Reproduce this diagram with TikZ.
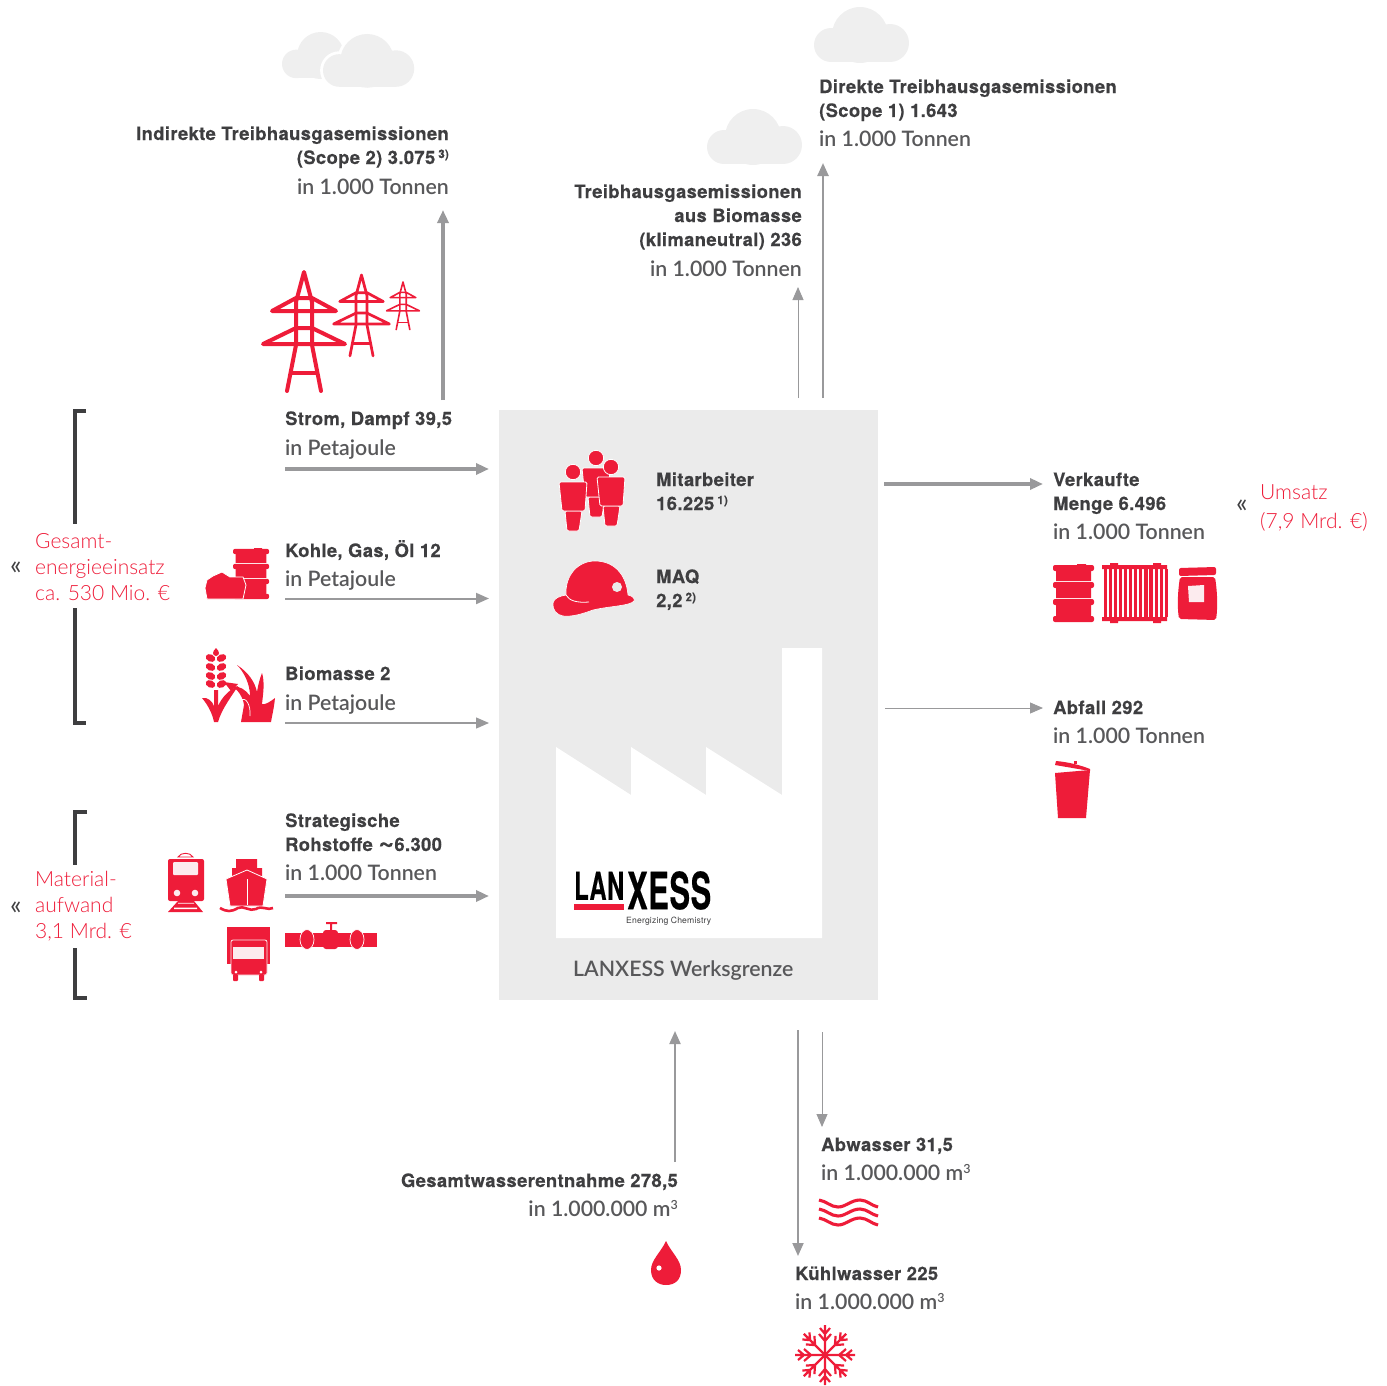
\documentclass[tikz,border=0pt]{standalone}
\usepackage{fontspec}
\usetikzlibrary{arrows.meta}
\setmainfont{TeX Gyre Heros}[LetterSpace=2,BoldFeatures={FakeBold=0.35}]
\newfontfamily\litefont{Lato Light}
\newfontfamily\quotfont{Lato}
\definecolor{lxred}{HTML}{EE1C39}
\definecolor{lxdark}{HTML}{3E3E40}
\definecolor{lxgrey}{HTML}{58585A}
\definecolor{lxline}{HTML}{99999B}
\definecolor{lxpanel}{HTML}{EBEBEB}
\definecolor{lxcloud}{HTML}{EFEFEF}
\definecolor{lxpale}{HTML}{FCEBEE}
\newcommand{\lite}[1]{{\litefont\fontsize{21.3}{24}\selectfont\color{lxgrey}#1}}
\newcommand{\sups}[1]{\,\raisebox{6pt}{\fontsize{11.5}{11.5}\selectfont #1}}
\newcommand{\cubic}{\raisebox{7pt}{\fontsize{12.5}{12.5}\selectfont 3}}
\tikzset{
  cloud/.pic={
    \fill[lxcloud] (46,28) circle [radius=28];
    \fill[lxcloud] (17,38) circle [radius=17];
    \fill[lxcloud] (76,36) circle [radius=19];
    \fill[lxcloud] (17,35) rectangle (76,55);
  },
  cloudback/.pic={
    \fill[white] (46,28) circle [radius=31];
    \fill[white] (17,38) circle [radius=20];
    \fill[white] (76,36) circle [radius=22];
    \fill[white] (17,32) rectangle (76,58);
    \fill[lxcloud] (46,28) circle [radius=28];
    \fill[lxcloud] (17,38) circle [radius=17];
    \fill[lxcloud] (76,36) circle [radius=19];
    \fill[lxcloud] (17,35) rectangle (76,55);
  },
  pylon/.pic={
    \draw[lxred,line cap=round,line join=round] (-17,119) -- (-8,73) -- (-8,30) -- (0,0) -- (8,30) -- (8,73) -- (17,119);
    \draw[lxred,line cap=round,line join=round] (-8,26) -- (-32,39) -- (32,39) -- (8,26) -- cycle;
    \draw[lxred,line cap=round,line join=round] (-8,56) -- (-41,72) -- (41,72) -- (8,56) -- cycle;
    \draw[lxred] (-13,101) -- (13,101);
  },
  barrel/.pic={
    \fill[lxred] (24,0) rectangle (33,2) (3,7) rectangle (38,17) (3,24) rectangle (38,34) (3,41) rectangle (38,52);
    \foreach \ribtop in {1,18,35,52}
      \fill[lxred,rounded corners=2] (0,\ribtop) rectangle (41,\ribtop+6);
  },
  person/.pic={
    \filldraw[lxred,draw=white,line width=.8pt] (0,0) circle [radius=7.7];
    \filldraw[lxred,draw=white,line width=.8pt,rounded corners=1.5] (-8,39) -- (9,39) -- (6,59) -- (-6,59) -- cycle;
    \filldraw[lxred,draw=white,line width=.8pt,rounded corners=1.5] (-14,10) -- (14,10) -- (12,39) -- (-11,39) -- cycle;
  }
}
\begin{document}
\begin{tikzpicture}[x=1pt,y=-1pt,every node/.style={inner sep=0pt,text=lxdark,
    font=\bfseries\fontsize{18.4}{24}\selectfont}]
  \tikzstyle{flow} = [draw=lxline,-{Triangle[length=13pt,width=11pt]}]
  \tikzstyle{bracket} = [draw=lxdark,line width=3.2pt]
  \tikzstyle{lbl} = [anchor=base west,align=left]
  \tikzstyle{lblr} = [anchor=base east,align=right]
  \tikzstyle{redlbl} = [anchor=base west,align=left,text=lxred,font=\litefont\fontsize{21}{26}\selectfont]
  \tikzstyle{quot} = [text=lxdark,font=\quotfont\fontsize{27}{27}\selectfont]
  \useasboundingbox (0,0) rectangle (1387,1386);
  % panel and factory
  \fill[lxpanel] (499,410) rectangle (878,1000);
  \fill[white] (556,938) -- (556,747) -- (631,795) -- (631,747) -- (706,795) -- (706,747) -- (782,795) -- (782,648) -- (822,648) -- (822,938) -- cycle;
  \node[anchor=south west,text=black] (lan) at (574,900) {\resizebox{50pt}{28pt}{\bfseries LAN}};
  \node[anchor=south west,text=black] (xess) at (627,910) {\resizebox{84pt}{38pt}{\bfseries XESS}};
  \fill[lxred] (574,904) rectangle (624,910);
  \node[anchor=base west,font=\fontsize{8.6}{10}\selectfont] (claim) at (626,923) {Energizing Chemistry};
  \node[lbl] (grenze) at (573,976) {\lite{LANXESS Werksgrenze}};
  % clouds
  \pic[scale=.84] at (282,32) {cloud};
  \pic[scale=.96] at (323,34) {cloudback};
  \pic at (814,7) {cloud};
  \pic at (707,109) {cloud};
  % labels
  \node[lblr] (scope2) at (449,194) {Indirekte Treibhausgasemissionen\\(Scope 2) 3.075\sups{3)}\\[6pt]\lite{in 1.000 Tonnen}};
  \node[lbl] (scope1) at (819,147) {Direkte Treibhausgasemissionen\\(Scope 1) 1.643\\[6pt]\lite{in 1.000 Tonnen}};
  \node[lblr] (biogas) at (802,276) {Treibhausgasemissionen\\aus Biomasse\\(klimaneutral) 236\\[6pt]\lite{in 1.000 Tonnen}};
  \node[lbl] (strom) at (285,455) {Strom, Dampf 39,5\\[6pt]\lite{in Petajoule}};
  \node[lbl] (kohle) at (285,586) {Kohle, Gas, Öl 12\\[5pt]\lite{in Petajoule}};
  \node[lbl] (biomasse) at (285,710) {Biomasse 2\\[6pt]\lite{in Petajoule}};
  \node[lbl] (rohstoffe) at (285,880) {Strategische\\Rohstoffe \scalebox{1.5}{\char`~}6.300\\[5pt]\lite{in 1.000 Tonnen}};
  \node[lbl] (mitarbeiter) at (656,510) {Mitarbeiter\\16.225\sups{1)}};
  \node[lbl] (maq) at (656,607) {MAQ\\2,2\sups{2)}};
  \node[lbl] (menge) at (1053,539) {Verkaufte\\Menge 6.496\\[5pt]\lite{in 1.000 Tonnen}};
  \node[lbl] (abfall) at (1053,743) {Abfall 292\\[5pt]\lite{in 1.000 Tonnen}};
  \node[lblr] (entnahme) at (678,1216) {Gesamtwasserentnahme 278,5\\[5pt]\lite{in 1.000.000 m\cubic}};
  \node[lbl] (abwasser) at (821,1180) {Abwasser 31,5\\[5pt]\lite{in 1.000.000 m\cubic}};
  \node[lbl] (kuehl) at (795,1309) {Kühlwasser 225\\[5pt]\lite{in 1.000.000 m\cubic}};
  \node[redlbl] (energie) at (35,600) {Gesamt-\\energieeinsatz\\ca. 530 Mio. €};
  \node[redlbl] (material) at (35,938) {Material-\\aufwand\\3,1 Mrd. €};
  \node[redlbl] (umsatz) at (1260,528) {Umsatz\\[3pt](7,9 Mrd. €)};
  \node[quot] (q1) at (16,568) {«};
  \node[quot] (q2) at (16,908) {«};
  \node[quot] (q3) at (1242,506) {«};
  % brackets
  \coordinate (b1a) at (86,411); \coordinate (b1b) at (75,411); \coordinate (b1c) at (75,524);
  \coordinate (b2a) at (75,608); \coordinate (b2b) at (75,723); \coordinate (b2c) at (86,723);
  \coordinate (b3a) at (87,812); \coordinate (b3b) at (75,812); \coordinate (b3c) at (75,865);
  \coordinate (b4a) at (75,948); \coordinate (b4b) at (75,998); \coordinate (b4c) at (87,998);
  \foreach \n in {1,2,3,4}
    \draw[bracket] (b\n a) -- (b\n b) -- (b\n c);
  % flows
  \coordinate (f1a) at (443,400);   \coordinate (f1b) at (443,210);
  \coordinate (f2a) at (798,398);   \coordinate (f2b) at (798,287);
  \coordinate (f3a) at (823,398);   \coordinate (f3b) at (823,163);
  \coordinate (f4a) at (285,469);   \coordinate (f4b) at (489,469);
  \coordinate (f5a) at (285,598.5); \coordinate (f5b) at (489,598.5);
  \coordinate (f6a) at (285,723);   \coordinate (f6b) at (489,723);
  \coordinate (f7a) at (285,896);   \coordinate (f7b) at (489,896);
  \coordinate (f8a) at (884,484);   \coordinate (f8b) at (1043,484);
  \coordinate (f9a) at (885,708);   \coordinate (f9b) at (1043,708);
  \coordinate (f10a) at (675,1162); \coordinate (f10b) at (675,1031);
  \coordinate (f11a) at (798,1030); \coordinate (f11b) at (798,1256);
  \coordinate (f12a) at (822,1032); \coordinate (f12b) at (822,1127);
\foreach \source /\dest /\wdt in {f1a/f1b/3.8,f2a/f2b/.9,f3a/f3b/2.4,f4a/f4b/3.8,f5a/f5b/2,f6a/f6b/1.2,f7a/f7b/3.8,f8a/f8b/3.8,f9a/f9b/.9,f10a/f10b/2,f11a/f11b/2,f12a/f12b/.9}
   \draw[flow,line width=\wdt pt] (\source) -- (\dest);
  % pylons
  \foreach \px /\py /\pscale in {304/272/1,361.5/275/.68,403/282/.4}
    \pic[scale=\pscale,line width=\pscale*4pt] at (\px,\py) {pylon};
  % coal and barrel
  \pic[scale=.88] at (233,548) {barrel};
  \filldraw[lxred,draw=white,line width=.8pt] (205,588) -- (207,580) -- (213,576) -- (222,572) -- (230,577) -- (243,577) -- (246,585) -- (243,599) -- (207,599) -- cycle;
  % wheat and grass
  \fill[lxred] (216,648) .. controls (212,652) and (212,655) .. (216,656) .. controls (220,655) and (220,652) .. (216,648);
  \foreach \gy in {658,667,676,684} {
    \fill[lxred,rotate around={-25:(210.5,\gy)}] (210.5,\gy) ellipse [x radius=5,y radius=3.6];
    \fill[lxred,rotate around={25:(221.5,\gy)}] (221.5,\gy) ellipse [x radius=5,y radius=3.6];
  }
  \fill[lxred] (202,698) .. controls (208,697) and (212,701) .. (214,706) -- (214,690) -- (218,690) -- (218,706) .. controls (222,697) and (230,689) .. (238,686) .. controls (232,696) and (222,708) .. (218,722) -- (214,722) .. controls (212,712) and (207,704) .. (202,698) -- cycle;
  \fill[lxred] (224,682) -- (238,684) -- (231,691) -- cycle;
  \fill[lxred] (241,722) -- (244,705) .. controls (243,697) and (238,690) .. (232,686) .. controls (240,686) and (246,690) .. (250,696) .. controls (250,684) and (244,672) .. (237,665) .. controls (248,672) and (255,682) .. (257,692) .. controls (258,685) and (260,678) .. (262,673) .. controls (265,682) and (263,695) .. (262,704) .. controls (265,705) and (270,702) .. (275,698) .. controls (274,708) and (272,716) .. (271,722) -- cycle;
  \draw[white,line width=.7pt] (240,701) .. controls (246,695) and (251,706) .. (250,716);
  % train
  \draw[lxred,line width=.9pt] (178,857) .. controls (181,852) and (190,852) .. (193,857) -- cycle;
  \fill[lxred,rounded corners=2] (168,859) rectangle (204,901);
  \fill[lxpale,rounded corners=1] (173,862) rectangle (198,875);
  \fill[lxpale] (177,893) circle [radius=3.3] (195,893) circle [radius=3.3];
  \fill[lxred] (178,901) -- (194,901) -- (203,912) -- (168,912) -- cycle;
  \fill[white] (174,907.5) rectangle (197,909) (178,902.8) rectangle (194,903.6);
  % ship
  \fill[lxred] (236,859) rectangle (257,868) (232,868) rectangle (262,876);
  \filldraw[lxred,draw=white,line width=.8pt] (226,879) -- (247,870) -- (267,879) -- (263,906) -- (230,906) -- cycle;
  \draw[white,line width=.5pt] (247,879) -- (247,905);
  \draw[lxred,line width=2.6pt] (220,908) .. controls (227,912) and (231,912) .. (238,908) .. controls (243,905) and (250,912) .. (256,909) .. controls (262,905) and (268,911) .. (273,908);
  % truck
  \fill[lxred] (227,927) rectangle (270,964);
  \filldraw[lxred,draw=lxpale,line width=.8pt,rounded corners=2] (231,940) rectangle (267,975);
  \fill[lxpale] (233,947) rectangle (264,959);
  \fill[lxred,rounded corners=1] (233,974) rectangle (238,981) (259,974) rectangle (264,981);
  \fill[white] (236,972) circle [radius=1.5] (261,972) circle [radius=1.5];
  % pipe
  \fill[lxred] (285,933) rectangle (377,947);
  \filldraw[lxred,draw=white,line width=.7pt] (307,939.5) ellipse [x radius=7,y radius=10];
  \filldraw[lxred,draw=white,line width=.7pt] (357,939.5) ellipse [x radius=7,y radius=10];
  \fill[lxred,rounded corners=3] (323,930) rectangle (338,949);
  \fill[lxred] (330,924) rectangle (332,931) (326,922) rectangle (337,924);
  % staff and helmet
  \pic at (596,458) {person};
  \pic at (573,472) {person};
  \pic at (611,467) {person};
  \filldraw[lxred,draw=white,line width=.6pt] (553,603) .. controls (554,598) and (560,596) .. (566,595) .. controls (565,575) and (578,561) .. (595,561) .. controls (612,561) and (626,572) .. (628,595) .. controls (633,596) and (635,599) .. (634,601) .. controls (630,606) and (610,606) .. (593,610) .. controls (582,614) and (572,617) .. (563,616) .. controls (557,615) and (552,610) .. (553,603) -- cycle;
  \fill[lxpanel] (617,587) circle [radius=5];
  \draw[white,line width=.8pt] (566,595) .. controls (569,601) and (578,603) .. (589,602);
  % products
  \pic at (1053,564) {barrel};
  \fill[lxred] (1102,565) rectangle (1167,569) (1102,617) rectangle (1167,621) (1110,563) rectangle (1118,565) (1153,563) rectangle (1161,565) (1110,621) rectangle (1118,623) (1153,621) rectangle (1161,623);
  \foreach \bar in {0,...,12}
    \fill[lxred] (1103.5+\bar*5.1,569) rectangle ++(3.2,48);
  \fill[lxred,rounded corners=2] (1179,568) -- (1216,567) -- (1216,575) -- (1179,576) -- cycle;
  \fill[lxred,rounded corners=2] (1180,577) .. controls (1178,590) and (1177,605) .. (1179,619) -- (1216,620) .. controls (1218,605) and (1217,590) .. (1215,577) -- cycle;
  \fill[lxpale] (1188,586) -- (1204,585) -- (1204,602) -- (1189,602) -- cycle;
  % bin
  \fill[lxred] (1055,773) -- (1090,770) -- (1086,818) -- (1058,818) -- cycle;
  \fill[lxred] (1055,765) -- (1056,761) .. controls (1068,762) and (1080,765) .. (1090,769) -- (1090,771) -- cycle;
  \fill[lxred] (1074,761) rectangle (1077,764);
  % drop
  \fill[lxred] (666,1241) .. controls (661,1252) and (651,1260) .. (651,1270) .. controls (651,1280) and (658,1285) .. (666,1285) .. controls (675,1285) and (681,1280) .. (681,1270) .. controls (681,1260) and (671,1252) .. (666,1241) -- cycle;
  \fill[white] (659,1268) circle [radius=2.6];
  % waves
  \foreach \wy in {1200,1209,1218}
    \draw[lxred,line width=3.1pt] (819,\wy) .. controls (826,\wy+1) and (831,\wy+7) .. (838,\wy+7) .. controls (846,\wy+7) and (851,\wy) .. (860,\wy) .. controls (867,\wy) and (872,\wy+6) .. (878,\wy+7);
  % snowflake
  \foreach \ang in {0,45,...,315} {
    \draw[lxred,line width=2.2pt,shift={(825,1355)},rotate=\ang] (0,0) -- (30,0) (14,0) -- (21,6) (14,0) -- (21,-6) (21,0) -- (27,5) (21,0) -- (27,-5);
  }
\end{tikzpicture}
\end{document}
